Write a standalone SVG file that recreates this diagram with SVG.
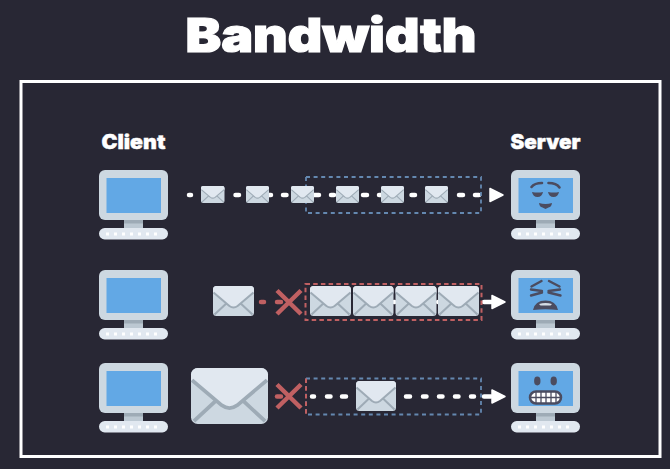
<svg xmlns="http://www.w3.org/2000/svg" width="670" height="469" viewBox="0 0 670 469">
<style>
.lbl{font-family:"Inter","Liberation Sans",sans-serif;font-weight:900;fill:#fff;stroke:#fff}
.dash{stroke:#fff;stroke-width:4.5;stroke-linecap:round;fill:none}
.red{stroke:#c06062;fill:none}
.boxb{fill:none;stroke:#6488b0;stroke-width:1.8;stroke-dasharray:4 3.600}
.boxr{fill:none;stroke:#c06062;stroke-width:2;stroke-dasharray:4.500 3.200}
.f{fill:none;stroke:#4b4c60;stroke-linecap:round;stroke-linejoin:round}
.d{fill:#4b4c60}
</style>
<defs>
<symbol id="env" viewBox="0 0 40 30" preserveAspectRatio="none" overflow="visible">
<rect width="40" height="30" rx="3.500" fill="#cdd8e1"/>
<path d="M0 3.500a3.500 3.500 0 0 1 3.500-3.500h33a3.500 3.500 0 0 1 3.500 3.500v3L24 20q-4 3-8 0L0 6.500z" fill="#e1e8f0"/>
<path d="M0.500 6.500l15.500 13.500q4 3 8 0L39.500 6.500M1.500 28.500L13 17.500M38.500 28.500L27 17.500" fill="none" stroke="#9eabb6" stroke-width="2"/>
</symbol>
<g id="mon">
<rect x="0" y="0" width="69" height="50" rx="6" fill="#cdd8e1"/>
<rect x="25" y="50" width="19" height="8" fill="#bcc8d2"/>
<rect x="25" y="50" width="19" height="3.500" fill="#9eabb6"/>
<rect x="0" y="58" width="69" height="11.500" rx="5.700" fill="#e1e8f0"/>
<path d="M7 64h55" stroke="#fff" stroke-width="3" stroke-dasharray="3 5"/>
<rect x="7.500" y="8" width="54.500" height="35" fill="#62a8e5"/>
</g>
<path id="arr" d="M-4 0h7" stroke="#fff" stroke-width="4.500" stroke-linecap="round"/>
<path id="head" d="M1 -6.500L14 0L1 6.500z" fill="#fff" stroke="#fff" stroke-width="1.500" stroke-linejoin="round"/>
</defs>
<rect width="670" height="469" fill="#282734"/>
<text id="title" class="lbl" x="331" y="52" font-size="46.800" text-anchor="middle" textLength="291" lengthAdjust="spacingAndGlyphs" stroke-width="1.200">Bandwidth</text>
<rect id="frame" x="21" y="81.500" width="639" height="375" fill="none" stroke="#fff" stroke-width="3"/>
<g id="labels">
<text class="lbl" x="133.500" y="149" font-size="20" text-anchor="middle" textLength="64" lengthAdjust="spacingAndGlyphs" stroke-width=".4">Client</text>
<text class="lbl" x="545.500" y="149" font-size="20" text-anchor="middle" textLength="70" lengthAdjust="spacingAndGlyphs" stroke-width=".4">Server</text>
</g>
<g id="connectors">
<path class="dash" d="M189 195h2M235.500 195h3.500M268 195h3M283 195h3.500M314 195h5M331 195h3M363 195h4M379 195h2M411.500 195h3.500M459 195h4M475 195h4"/>
<use href="#head" x="489" y="195"/>
<path class="red" stroke-width="4.500" stroke-linecap="round" d="M261 302h3M277 302h4"/>
<path class="red" stroke-width="4.500" d="M277 290.500l24 23.500M301 290.500l-24 23.500"/>
<path class="dash" d="M394 302h.5M438 302h.5"/>
<use href="#arr" x="488" y="302"/><use href="#head" x="491" y="302"/>
<path class="dash" d="M312 396.500h2M327 396.500h3.500M342 396.500h4M406 396.500h4M423 396.500h3.500M439 396.500h3.500M455 396.500h3.500M471 396.500h3"/>
<path class="red" stroke-width="4.500" stroke-linecap="round" d="M277 396.500h4"/>
<path class="red" stroke-width="4.500" d="M277 384.500l24 23.500M301 384.500l-24 23.500"/>
<use href="#arr" x="488" y="396.500"/><use href="#head" x="491" y="396.500"/>
</g>
<g id="box-row1"><rect class="boxb" x="306" y="177" width="175" height="36"/></g>
<g id="box-row2"><rect class="boxr" x="305.500" y="284" width="176" height="36"/></g>
<g id="box-row3"><rect class="boxb" x="306" y="378.500" width="175" height="36"/>
<path class="boxr" d="M306 378.500v36"/></g>
<g id="client-1"><use href="#mon" x="99" y="170"/></g>
<g id="client-2"><use href="#mon" x="99" y="270"/></g>
<g id="client-3"><use href="#mon" x="99" y="363"/></g>
<g id="server-1"><use href="#mon" x="511" y="170"/>
<path class="f" stroke-width="2.600" d="M531.500 187q3-4 10.500-4M548.500 183q8 0 11 4.500"/>
<path class="d" d="M532 192q6 1 11 0q-1 5-5.500 5t-5.500-5zM548 192q6 1 11 0q-1 5-5.500 5t-5.500-5z"/>
<path class="d" d="M539 203q6.500 2 13 0q-.5 4-3.500 4.500l-3 1.500l-3-1.500q-3-.5-3.500-4.500z"/>
</g>
<g id="server-2"><use href="#mon" x="511" y="270"/>
<path class="f" stroke-width="2.400" d="M541.500 281l-10 5.500M531 289.500l11 1.500M542 292.500l-11 3M549 281l10.500 5.500M560 289.500l-11.500 1.500M548.500 292.500l12 3"/>
<path class="d" d="M533 310q2-9.500 12.500-9.500t12.500 9.500q-12.500-1.500-25 0z"/>
<path d="M539 304q6.500-2 13 0l-1.500 1.500h-10z" fill="#d5dde6"/>
</g>
<g id="server-3"><use href="#mon" x="511" y="363"/>
<ellipse class="d" cx="537.300" cy="381" rx="3.200" ry="4.400"/>
<ellipse class="d" cx="553.700" cy="381" rx="3.200" ry="4.400"/>
<rect x="530" y="391.500" width="31" height="12" rx="6" fill="#fff" stroke="#4b4c60" stroke-width="2.500"/>
<path d="M536 391v13M541 391v13M546 391v13M551 391v13M556 391v13M530 397.500h31" stroke="#4b4c60" stroke-width="1.300"/>
</g>
<g id="env-1-1"><use href="#env" x="201" y="186" width="23.500" height="17"/></g>
<g id="env-1-2"><use href="#env" x="246" y="186" width="23" height="17"/></g>
<g id="env-1-3"><use href="#env" x="291" y="186" width="23" height="17"/></g>
<g id="env-1-4"><use href="#env" x="336" y="186" width="23" height="17"/></g>
<g id="env-1-5"><use href="#env" x="381" y="186" width="23" height="17"/></g>
<g id="env-1-6"><use href="#env" x="425" y="186" width="23" height="17"/></g>
<g id="env-2-0"><use href="#env" x="213" y="286" width="41" height="30"/></g>
<g id="env-2-1"><use href="#env" x="310" y="286" width="41" height="30"/></g>
<g id="env-2-2"><use href="#env" x="353" y="286" width="40.500" height="30"/></g>
<g id="env-2-3"><use href="#env" x="395.500" y="286" width="41" height="30"/></g>
<g id="env-2-4"><use href="#env" x="438" y="286" width="41" height="30"/></g>
<g id="env-3-0"><use href="#env" x="191" y="368" width="77" height="56"/></g>
<g id="env-3-1"><use href="#env" x="356" y="381" width="40" height="30"/></g>
</svg>
